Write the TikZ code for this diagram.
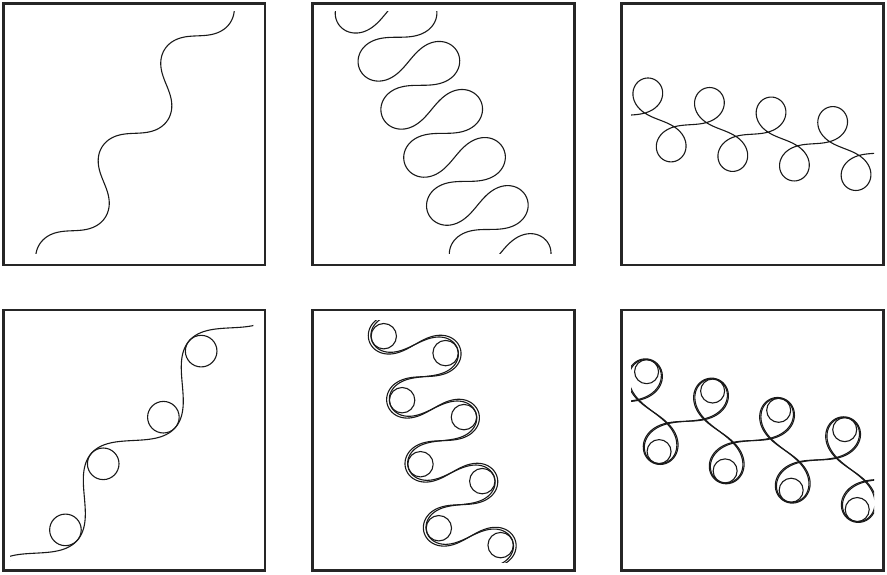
\documentclass[tikz,border=0pt]{standalone}
\usepackage{tikz}
\makeatletter
\newcount\sgk
% #1 x ref (px), #2 y ref (px, downwards), #3 theta0, #4 amplitude, #5 eps (shape),
% #6 period length (px), #7 forward steps, #8 backward steps, #9 circle radius (0 = none)
\newcommand\sg@addcirc[2]{%
  \ifdim#2pt>0pt
    \pgfmathsetmacro\sg@cx{\sg@x+(#2)*cos(#1)}%
    \pgfmathsetmacro\sg@cy{\sg@y+(#2)*sin(#1)}%
    \edef\sg@tmp{\noexpand\pgfpathcircle{\noexpand\pgfqpoint{\sg@cx pt}{\sg@cy pt}}{#2pt}}%
    \expandafter\g@addto@macro\expandafter\sg@circ\expandafter{\sg@tmp}%
  \fi}
\newcommand\sgcurve[9]{%
  \pgfmathsetmacro\sg@kk{sqrt(1+(#5)*(#5))}%
  \def\sg@sum{0}%
  \sgk=0
  \loop\ifnum\sgk<120\relax
    \pgfmathsetmacro\sg@sn{sin(-88.5+3*\sgk)}%
    \pgfmathsetmacro\sg@g{\sg@kk*\sg@sn/sqrt((#5)*(#5)+\sg@sn*\sg@sn)}%
    \pgfmathsetmacro\sg@sum{\sg@sum+cos((#4)*\sg@g)}%
    \advance\sgk by 1
  \repeat
  \pgfmathsetmacro\sg@ds{(#6)/abs(\sg@sum)}%
  \gdef\sg@circ{}%
  % forward
  \pgfmathsetmacro\sg@x{#1}\pgfmathsetmacro\sg@y{-(#2)}%
  \pgfpathmoveto{\pgfqpoint{\sg@x pt}{\sg@y pt}}%
  \sgk=0
  \loop\ifnum\sgk<#7\relax
    \pgfmathsetmacro\sg@sn{sin(-88.5+3*\sgk)}%
    \pgfmathsetmacro\sg@t{(#3)+(#4)*\sg@kk*\sg@sn/sqrt((#5)*(#5)+\sg@sn*\sg@sn)}%
    \pgfmathsetmacro\sg@x{\sg@x+\sg@ds*cos(\sg@t)}%
    \pgfmathsetmacro\sg@y{\sg@y+\sg@ds*sin(\sg@t)}%
    \pgfpathlineto{\pgfqpoint{\sg@x pt}{\sg@y pt}}%
    \advance\sgk by 1
    \pgfmathtruncatemacro\sg@m{mod(\sgk,120)}%
    \ifnum\sg@m=30 \sg@addcirc{#3+90}{#9}\fi
    \ifnum\sg@m=90 \sg@addcirc{#3-90}{#9}\fi
  \repeat
  % backward
  \pgfmathsetmacro\sg@x{#1}\pgfmathsetmacro\sg@y{-(#2)}%
  \pgfpathmoveto{\pgfqpoint{\sg@x pt}{\sg@y pt}}%
  \sgk=0
  \loop\ifnum\sgk<#8\relax
    \pgfmathsetmacro\sg@sn{sin(-91.5-3*\sgk)}%
    \pgfmathsetmacro\sg@t{(#3)+(#4)*\sg@kk*\sg@sn/sqrt((#5)*(#5)+\sg@sn*\sg@sn)}%
    \pgfmathsetmacro\sg@x{\sg@x-\sg@ds*cos(\sg@t)}%
    \pgfmathsetmacro\sg@y{\sg@y-\sg@ds*sin(\sg@t)}%
    \pgfpathlineto{\pgfqpoint{\sg@x pt}{\sg@y pt}}%
    \advance\sgk by 1
    \pgfmathtruncatemacro\sg@m{mod(\sgk,120)}%
    \ifnum\sg@m=90 \sg@addcirc{#3+90}{#9}\fi
    \ifnum\sg@m=30 \sg@addcirc{#3-90}{#9}\fi
  \repeat
  \pgfusepath{stroke}%
  \sg@circ\pgfusepath{stroke}%
}
\makeatother
\tikzset{
  panel/.style={line width=2.7pt, draw=black!85},
  curvestyle/.style={line width=1.1pt, line join=round, line cap=round, black!90}
}
\begin{document}
\begin{tikzpicture}[x=1pt,y=1pt]
\useasboundingbox (0,0) rectangle (887,-574);
% frames
\draw[panel] (3.3,-3.3) rectangle (265,-265);
\draw[panel] (312.7,-3.3) rectangle (574.3,-265);
\draw[panel] (621.7,-3.3) rectangle (883.3,-265);
\draw[panel] (3.3,-310) rectangle (265,-570.7);
\draw[panel] (312.7,-310) rectangle (574.3,-570.7);
\draw[panel] (621.7,-310) rectangle (883.3,-570.7);
% top left
\begin{scope}[curvestyle]
\clip (12,-11.7) rectangle (256,-253.3);
\sgcurve{135}{133.3}{57.3}{55}{30}{115.8}{192}{192}{0}
\end{scope}
% top middle
\begin{scope}[curvestyle]
\clip (322,-11.7) rectangle (565,-253.3);
\sgcurve{420.3}{85.3}{295.4}{115}{30}{53.2}{480}{240}{0}
\end{scope}
% top right
\begin{scope}[curvestyle]
\clip (631,-11.7) rectangle (874,-253.3);
\sgcurve{690.3}{124.7}{171.2}{167.8}{30}{62.35}{420}{192}{0}
\end{scope}
% bottom left
\begin{scope}[curvestyle]
\clip (10,-319) rectangle (253.3,-560);
\sgcurve{133.3}{440.5}{49}{46}{1.2}{149.3}{192}{192}{15.8}
\end{scope}
% bottom middle
\begin{scope}[curvestyle]
\clip (322,-320) rectangle (565,-562);
\sgcurve{423.85}{376.65}{286}{100}{1.8}{66.6}{420}{180}{12.7}
\sgcurve{423.85}{376.65}{286}{104}{2.6}{66.6}{420}{180}{0}
\end{scope}
% bottom right
\begin{scope}[curvestyle]
\clip (631,-319) rectangle (874,-562);
\sgcurve{685.85}{421.3}{163.7}{159.3}{2}{68.8}{420}{180}{12}
\sgcurve{685.85}{421.3}{163.7}{162}{3}{68.8}{420}{180}{0}
\end{scope}
\end{tikzpicture}
\end{document}
